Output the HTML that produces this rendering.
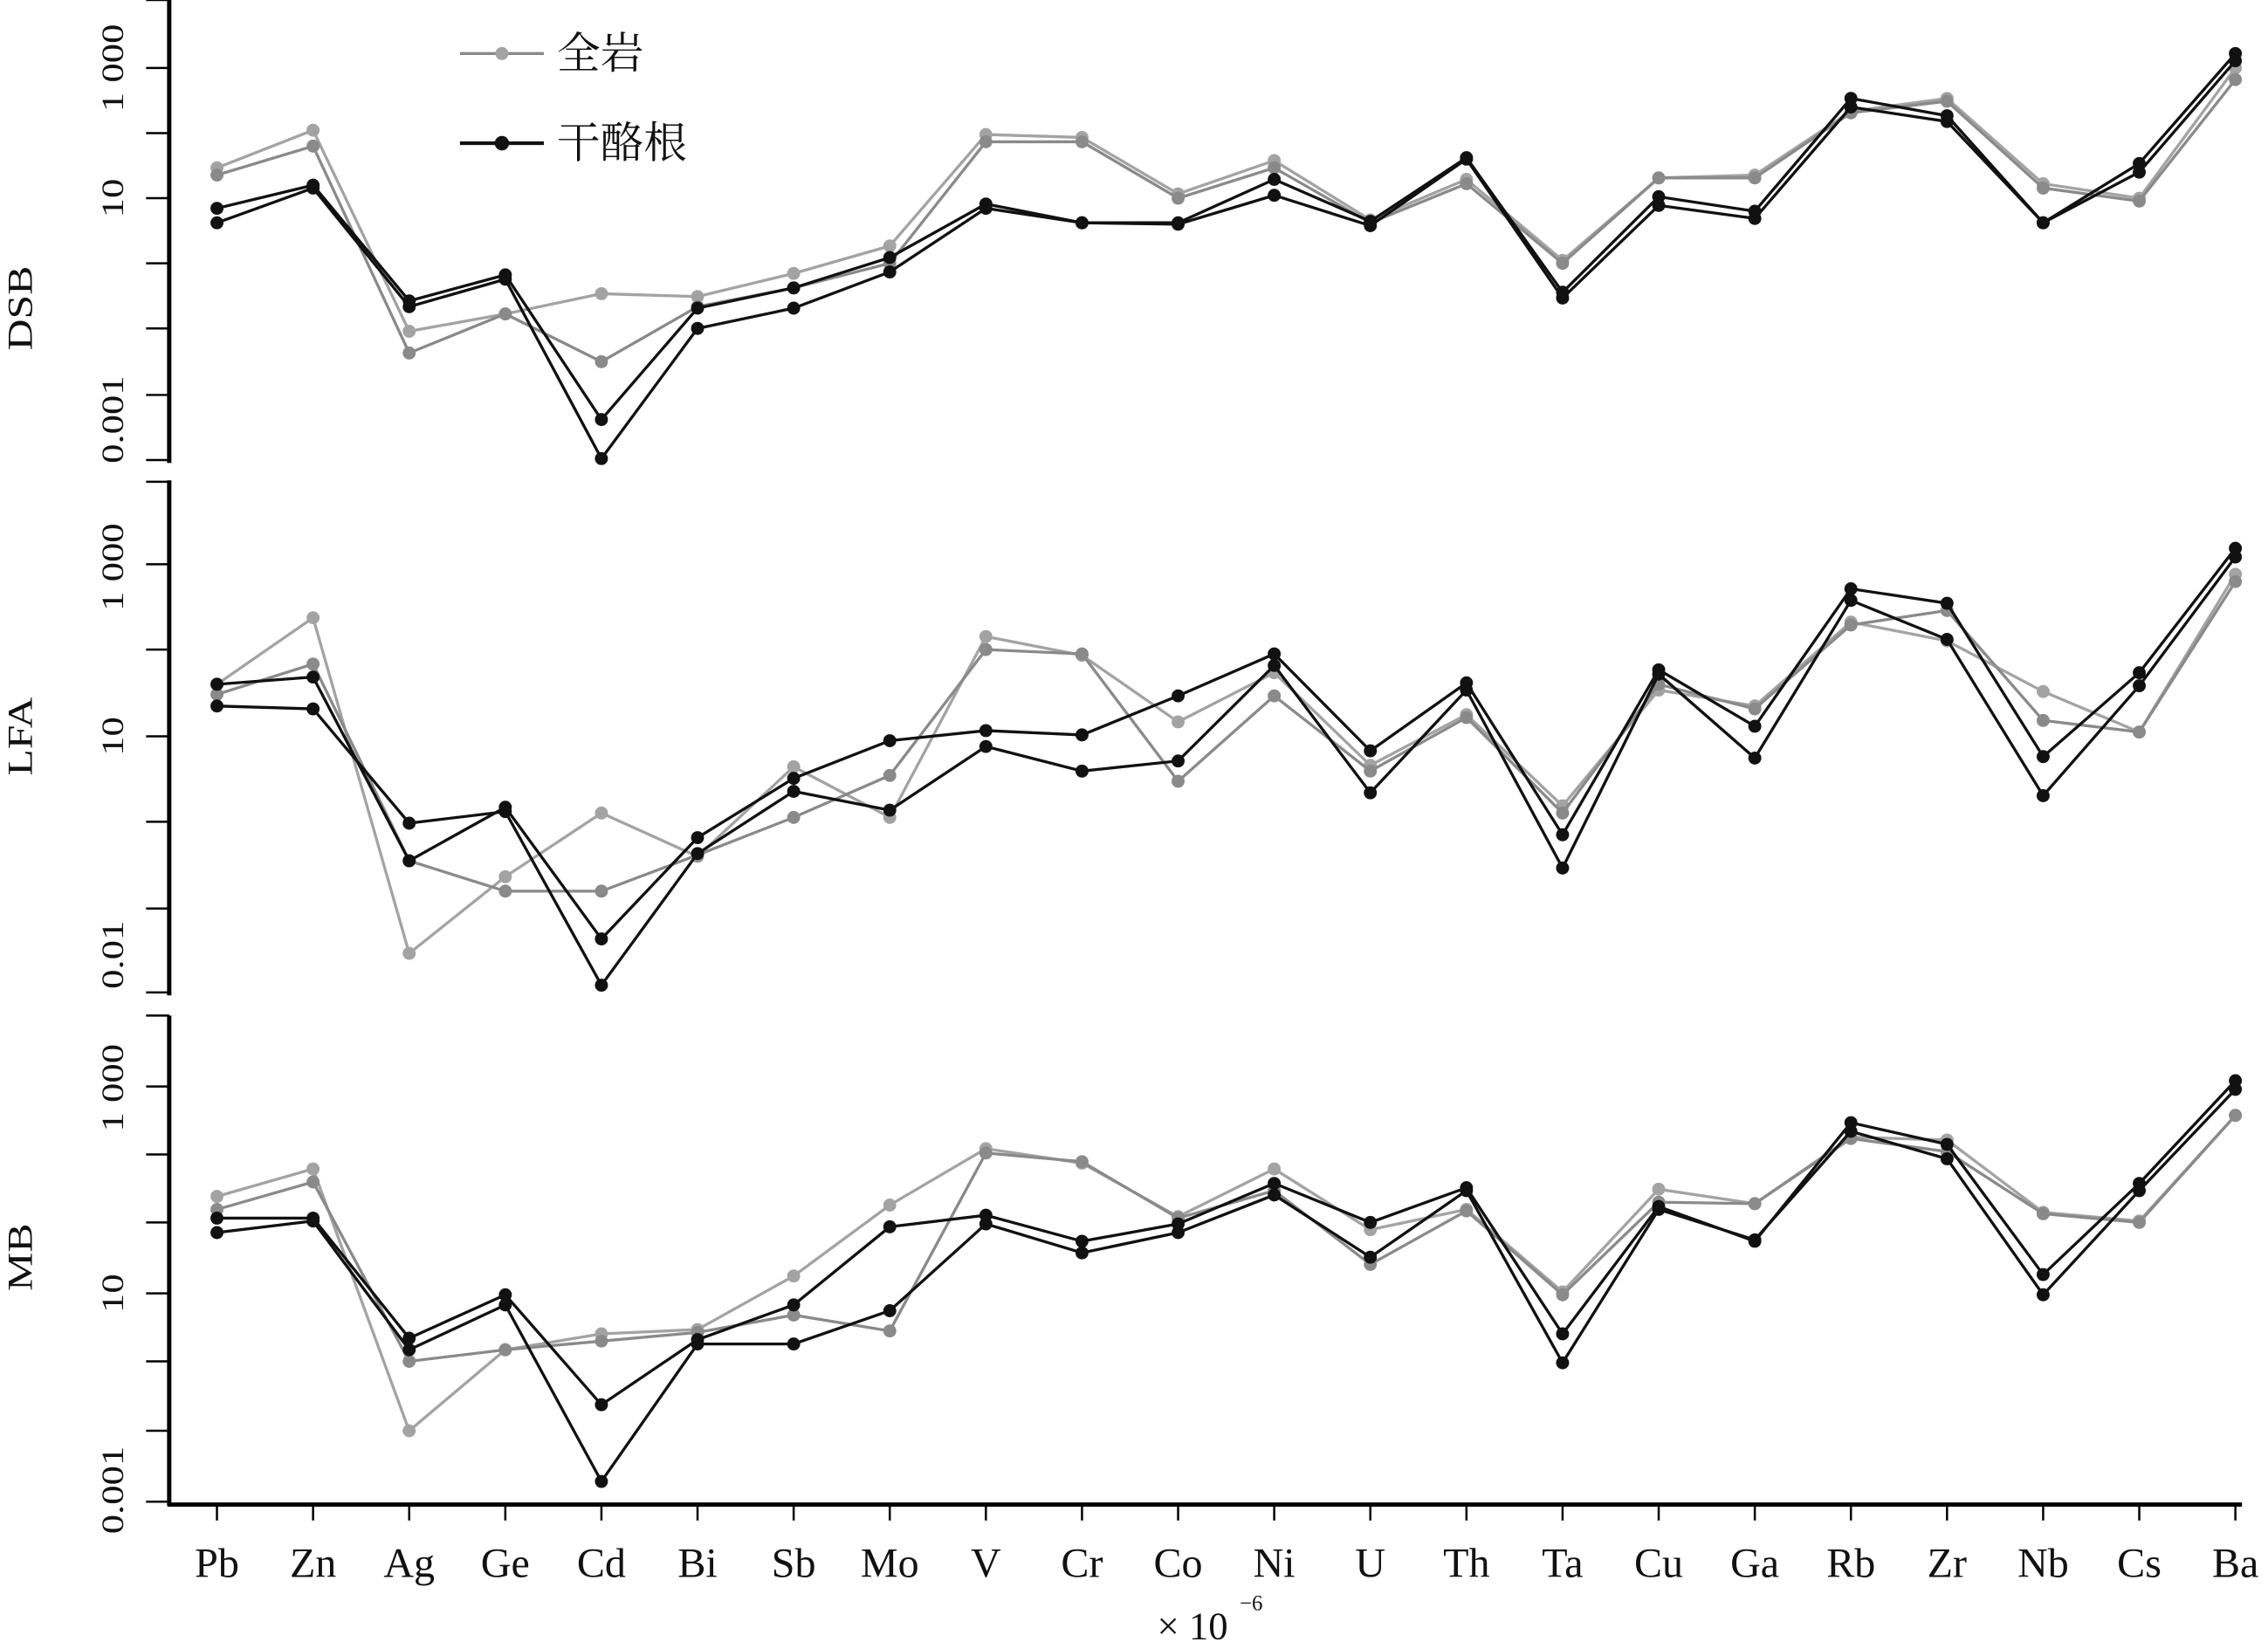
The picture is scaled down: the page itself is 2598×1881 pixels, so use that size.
<!DOCTYPE html>
<html><head><meta charset="utf-8"><style>
html,body{margin:0;padding:0;background:#fff;}
svg{display:block;}
text{font-family:"Liberation Serif","Noto Serif CJK SC",serif;fill:#111;}
</style></head><body>
<svg id="s" width="2598" height="1881" viewBox="0 0 1568 1135" preserveAspectRatio="none" xmlns="http://www.w3.org/2000/svg">
<g id="g"></g>
</svg>
<script>
const ns="http://www.w3.org/2000/svg",g=document.getElementById('g');
function el(t,a,txt){const e=document.createElementNS(ns,t);for(const k in a)e.setAttribute(k,a[k]);if(txt!==undefined)e.textContent=txt;g.appendChild(e);return e;}
const cats=["Pb","Zn","Ag","Ge","Cd","Bi","Sb","Mo","V","Cr","Co","Ni","U","Th","Ta","Cu","Ga","Rb","Zr","Nb","Cs","Ba"];
const X=i=>150+66.45*i;
const AX=117;
el('line',{x1:AX,y1:0,x2:AX,y2:320,stroke:'#000','stroke-width':3});
el('line',{x1:AX,y1:332,x2:AX,y2:688,stroke:'#000','stroke-width':3});
el('line',{x1:AX,y1:702,x2:AX,y2:1041,stroke:'#000','stroke-width':3});
[[0,47,92,137,182,227,273,318],[333,390,449,509,568,628,686],[702,751,798,845,894,941,989,1038]].forEach(a=>a.forEach(y=>el('line',{x1:101,y1:y,x2:AX,y2:y,stroke:'#000','stroke-width':1.5})));
el('line',{x1:AX-1,y1:1040,x2:1550,y2:1040,stroke:'#000','stroke-width':3});
cats.forEach((c,i)=>{el('line',{x1:X(i),y1:1040,x2:X(i),y2:1051,stroke:'#000','stroke-width':1.5});
el('text',{x:X(i),y:1090,'font-size':29,'text-anchor':'middle'},c);});
function rl(x,y,t,fs){el('text',{x:0,y:0,'font-size':fs||27,'text-anchor':'middle',transform:`translate(${x},${y}) rotate(-90) scale(1,0.8)`},t);}
rl(85,47,'1 000');rl(85,137,'10');rl(85,290,'0.001');
rl(85,392,'1 000');rl(85,509,'10');rl(85,660,'0.01');
rl(85,752,'1 000');rl(85,894,'10');rl(85,1030,'0.001');
rl(22,213,'DSB',30);rl(22,509,'LFA',30);rl(22,869,'MB',30);
el('text',{x:800,y:1133,'font-size':27},'× 10');
el('text',{x:857,y:1113,'font-size':15},'−6');
const G1='#a3a3a3',G2='#8a8a8a',B='#111';
const S=[
[G1,[116,90,229,217,203,205,189,170,93,95,134,111,152,124,180,123,121,77,68,127,137,47]],
[G2,[121,101,244,217,250,212,199,182,98,98,137,116,154,127,182,123,123,78,70,130,139,55]],
[B,[144,128,208,190,290,213,199,178,141,154,154,124,153,109,202,136,146,68,80,154,113,37]],
[B,[154,130,212,193,317,227,213,188,144,154,155,135,156,110,206,142,151,74,84,154,119,42]],
[G1,[473,427,659,606,562,592,530,565,440,453,499,465,529,494,557,477,488,430,443,478,506,397]],
[G2,[480,459,595,616,616,591,565,536,449,452,540,481,533,496,562,473,490,432,422,498,506,402]],
[B,[473,468,595,558,649,579,538,512,505,508,481,452,519,472,577,463,502,407,417,523,465,379]],
[B,[488,490,569,561,681,590,547,560,516,533,526,460,548,477,600,466,524,415,442,550,474,385]],
[G1,[827,808,989,933,922,919,882,833,794,804,841,808,850,836,893,822,832,786,788,838,844,771]],
[G2,[836,817,941,933,927,921,909,920,797,803,842,823,874,837,895,831,832,787,796,839,845,771]],
[B,[842,842,925,895,971,926,902,848,840,858,846,818,845,821,922,834,858,776,791,881,818,747]],
[B,[852,844,933,902,1024,929,929,906,846,866,852,826,869,823,942,836,857,782,801,895,823,753]]];
S.forEach(([c,ys])=>{el('polyline',{points:ys.map((y,i)=>X(i)+','+y).join(' '),fill:'none',stroke:c,'stroke-width':2});
ys.forEach((y,i)=>el('circle',{cx:X(i),cy:y,r:4.5,fill:c}));});
el('line',{x1:318,y1:37,x2:376,y2:37,stroke:G2,'stroke-width':2});el('circle',{cx:347,cy:37,r:4.5,fill:G1});
el('text',{x:385,y:47,'font-size':30},'全岩');
el('line',{x1:318,y1:99,x2:376,y2:99,stroke:B,'stroke-width':2.5});el('circle',{cx:347,cy:99,r:5,fill:B});
el('text',{x:385,y:109,'font-size':30},'干酪根');
</script>
</body></html>
